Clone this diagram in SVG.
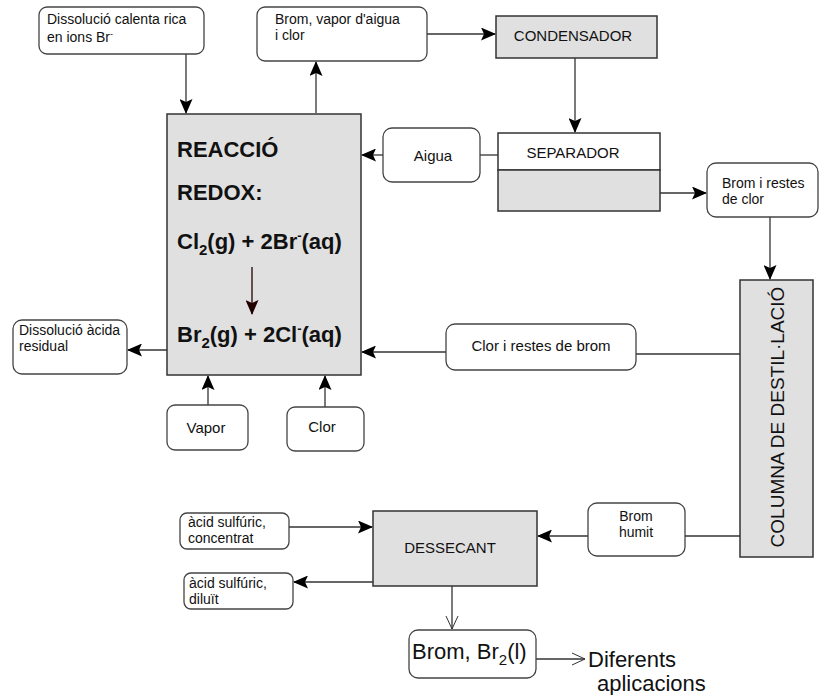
<svg xmlns="http://www.w3.org/2000/svg" width="819" height="695" viewBox="0 0 819 695">
<style>
text{font-family:"Liberation Sans",Arial,sans-serif;fill:#111}
.t{font-size:15px}
.s{font-size:14px}
.c{text-anchor:middle}
.b{font-weight:bold;font-size:22px}
.rb{fill:#fff;stroke:#444;stroke-width:1.3}
.gb{fill:#e0e0e0;stroke:#333;stroke-width:1.5}
.ln{stroke:#333;stroke-width:1.3;fill:none}
</style>
<defs>
<marker id="ah" markerUnits="userSpaceOnUse" markerWidth="15" markerHeight="13" refX="14" refY="6.5" orient="auto">
<path d="M0,0 L15,6.5 L0,13 L3,6.5 z" fill="#000"/>
</marker>
<marker id="ahd" markerUnits="userSpaceOnUse" markerWidth="15" markerHeight="13" refX="14" refY="6.5" orient="auto">
<path d="M0,0 L15,6.5 L0,13 L3,6.5 z" fill="#200"/>
</marker>
<marker id="oa" markerUnits="userSpaceOnUse" markerWidth="14" markerHeight="14" refX="13" refY="7" orient="auto">
<path d="M0,1 L13,7 L0,13" fill="none" stroke="#333" stroke-width="1"/>
</marker>
</defs>

<g id="connectors">
<line class="ln" x1="186" y1="54" x2="186" y2="113" marker-end="url(#ah)"/>
<line class="ln" x1="316" y1="113" x2="316" y2="62" marker-end="url(#ah)"/>
<line class="ln" x1="427" y1="34" x2="495" y2="34" marker-end="url(#ah)"/>
<line class="ln" x1="575" y1="58" x2="575" y2="132" marker-end="url(#ah)"/>
<line class="ln" x1="498" y1="155" x2="480" y2="155"/>
<line class="ln" x1="383" y1="155" x2="362" y2="155" marker-end="url(#ah)"/>
<line class="ln" x1="660" y1="193" x2="706" y2="193" marker-end="url(#ah)"/>
<line class="ln" x1="770" y1="217" x2="770" y2="279" marker-end="url(#ah)"/>
<line class="ln" x1="740" y1="354" x2="636" y2="354"/>
<line class="ln" x1="446" y1="352" x2="362" y2="352" marker-end="url(#ah)"/>
<line class="ln" x1="167" y1="350" x2="128" y2="350" marker-end="url(#ah)"/>
<line class="ln" x1="208" y1="405" x2="208" y2="376" marker-end="url(#ah)"/>
<line class="ln" x1="325" y1="407" x2="325" y2="376" marker-end="url(#ah)"/>
<line class="ln" x1="740" y1="536" x2="685" y2="536"/>
<line class="ln" x1="588" y1="536" x2="538" y2="536" marker-end="url(#ah)"/>
<line class="ln" x1="289" y1="527" x2="372" y2="527" marker-end="url(#ah)"/>
<line class="ln" x1="373" y1="582" x2="294" y2="582" marker-end="url(#ah)"/>
<line class="ln" x1="452" y1="586" x2="452" y2="629" marker-end="url(#oa)"/>
<line class="ln" x1="536" y1="659" x2="585" y2="659" marker-end="url(#oa)"/>
</g>

<g id="n-dissolucio">
<rect class="rb" x="39" y="7" width="165" height="47" rx="8"/>
<text class="s" x="47" y="24">Dissolució calenta rica</text>
<text class="s" x="47" y="42">en ions Br<tspan font-size="9" dy="-5">-</tspan></text>
</g>

<g id="n-brom-vapor">
<rect class="rb" x="257" y="7" width="170" height="54" rx="8"/>
<text class="s" x="275" y="24">Brom, vapor d'aigua</text>
<text class="s" x="275" y="40">i clor</text>
</g>

<g id="n-condensador">
<rect class="gb" x="496" y="16" width="161" height="42"/>
<text class="t c" x="573" y="41">CONDENSADOR</text>
</g>

<g id="n-separador">
<rect x="498" y="133" width="162" height="37" fill="#fff" stroke="#333" stroke-width="1.5"/>
<rect x="498" y="170" width="162" height="41" fill="#e0e0e0" stroke="#333" stroke-width="1.5"/>
<text class="t c" x="573" y="158">SEPARADOR</text>
</g>

<g id="n-aigua">
<rect class="rb" x="383" y="128" width="97" height="54" rx="9"/>
<text class="t c" x="433" y="161">Aigua</text>
</g>

<g id="n-brom-restes">
<rect class="rb" x="707" y="163" width="111" height="54" rx="9"/>
<text class="s" x="722" y="188">Brom i restes</text>
<text class="s" x="722" y="204">de clor</text>
</g>

<g id="n-reaccio">
<rect class="gb" x="167" y="114" width="194" height="261"/>
<text class="b" x="177" y="157">REACCIÓ</text>
<text class="b" x="177" y="200">REDOX:</text>
<text class="b" x="177" y="249">Cl<tspan font-size="15" dy="6">2</tspan><tspan dy="-6">(g) + 2Br</tspan><tspan font-size="13" dy="-9">-</tspan><tspan dy="9">(aq)</tspan></text>
<line x1="252" y1="267" x2="252" y2="314" stroke="#200" stroke-width="1.3" marker-end="url(#ahd)"/>
<text class="b" x="177" y="342">Br<tspan font-size="15" dy="6">2</tspan><tspan dy="-6">(g) + 2Cl</tspan><tspan font-size="13" dy="-9">-</tspan><tspan dy="9">(aq)</tspan></text>
</g>

<g id="n-acida-residual">
<rect class="rb" x="13" y="320" width="114" height="54" rx="9"/>
<text class="s" x="19" y="335">Dissolució àcida</text>
<text class="s" x="19" y="351">residual</text>
</g>

<g id="n-vapor">
<rect class="rb" x="167" y="405" width="81" height="45" rx="8"/>
<text class="t c" x="206" y="433">Vapor</text>
</g>

<g id="n-clor">
<rect class="rb" x="287" y="407" width="77" height="44" rx="8"/>
<text class="t c" x="322" y="432">Clor</text>
</g>

<g id="n-clor-restes">
<rect class="rb" x="446" y="324" width="190" height="46" rx="9"/>
<text class="t c" x="541" y="351">Clor i restes de brom</text>
</g>

<g id="n-columna">
<rect class="gb" x="740" y="280" width="73" height="277"/>
<text class="c" font-size="19" transform="translate(784,417) rotate(-90)">COLUMNA DE DESTIL·LACIÓ</text>
</g>

<g id="n-brom-humit">
<rect class="rb" x="588" y="503" width="97" height="53" rx="9"/>
<text class="s c" x="636" y="521">Brom</text>
<text class="s c" x="636" y="537">humit</text>
</g>

<g id="n-dessecant">
<rect class="gb" x="373" y="511" width="164" height="75"/>
<text class="t c" x="450" y="553">DESSECANT</text>
</g>

<g id="n-acid-conc">
<rect class="rb" x="180" y="513" width="109" height="36" rx="7"/>
<text class="s" x="188" y="527">àcid sulfúric,</text>
<text class="s" x="188" y="543">concentrat</text>
</g>

<g id="n-acid-dil">
<rect class="rb" x="184" y="573" width="109" height="36" rx="7"/>
<text class="s" x="189" y="588">àcid sulfúric,</text>
<text class="s" x="189" y="604">diluït</text>
</g>

<g id="n-brom-br2">
<rect class="rb" x="409" y="630" width="127" height="48" rx="9"/>
<text x="412" y="659" font-size="22">Brom, Br<tspan font-size="15" dy="6">2</tspan><tspan dy="-6">(l)</tspan></text>
</g>

<g id="n-diferents">
<text x="588" y="667" font-size="22">Diferents</text>
<text x="597" y="691" font-size="22">aplicacions</text>
</g>
</svg>
